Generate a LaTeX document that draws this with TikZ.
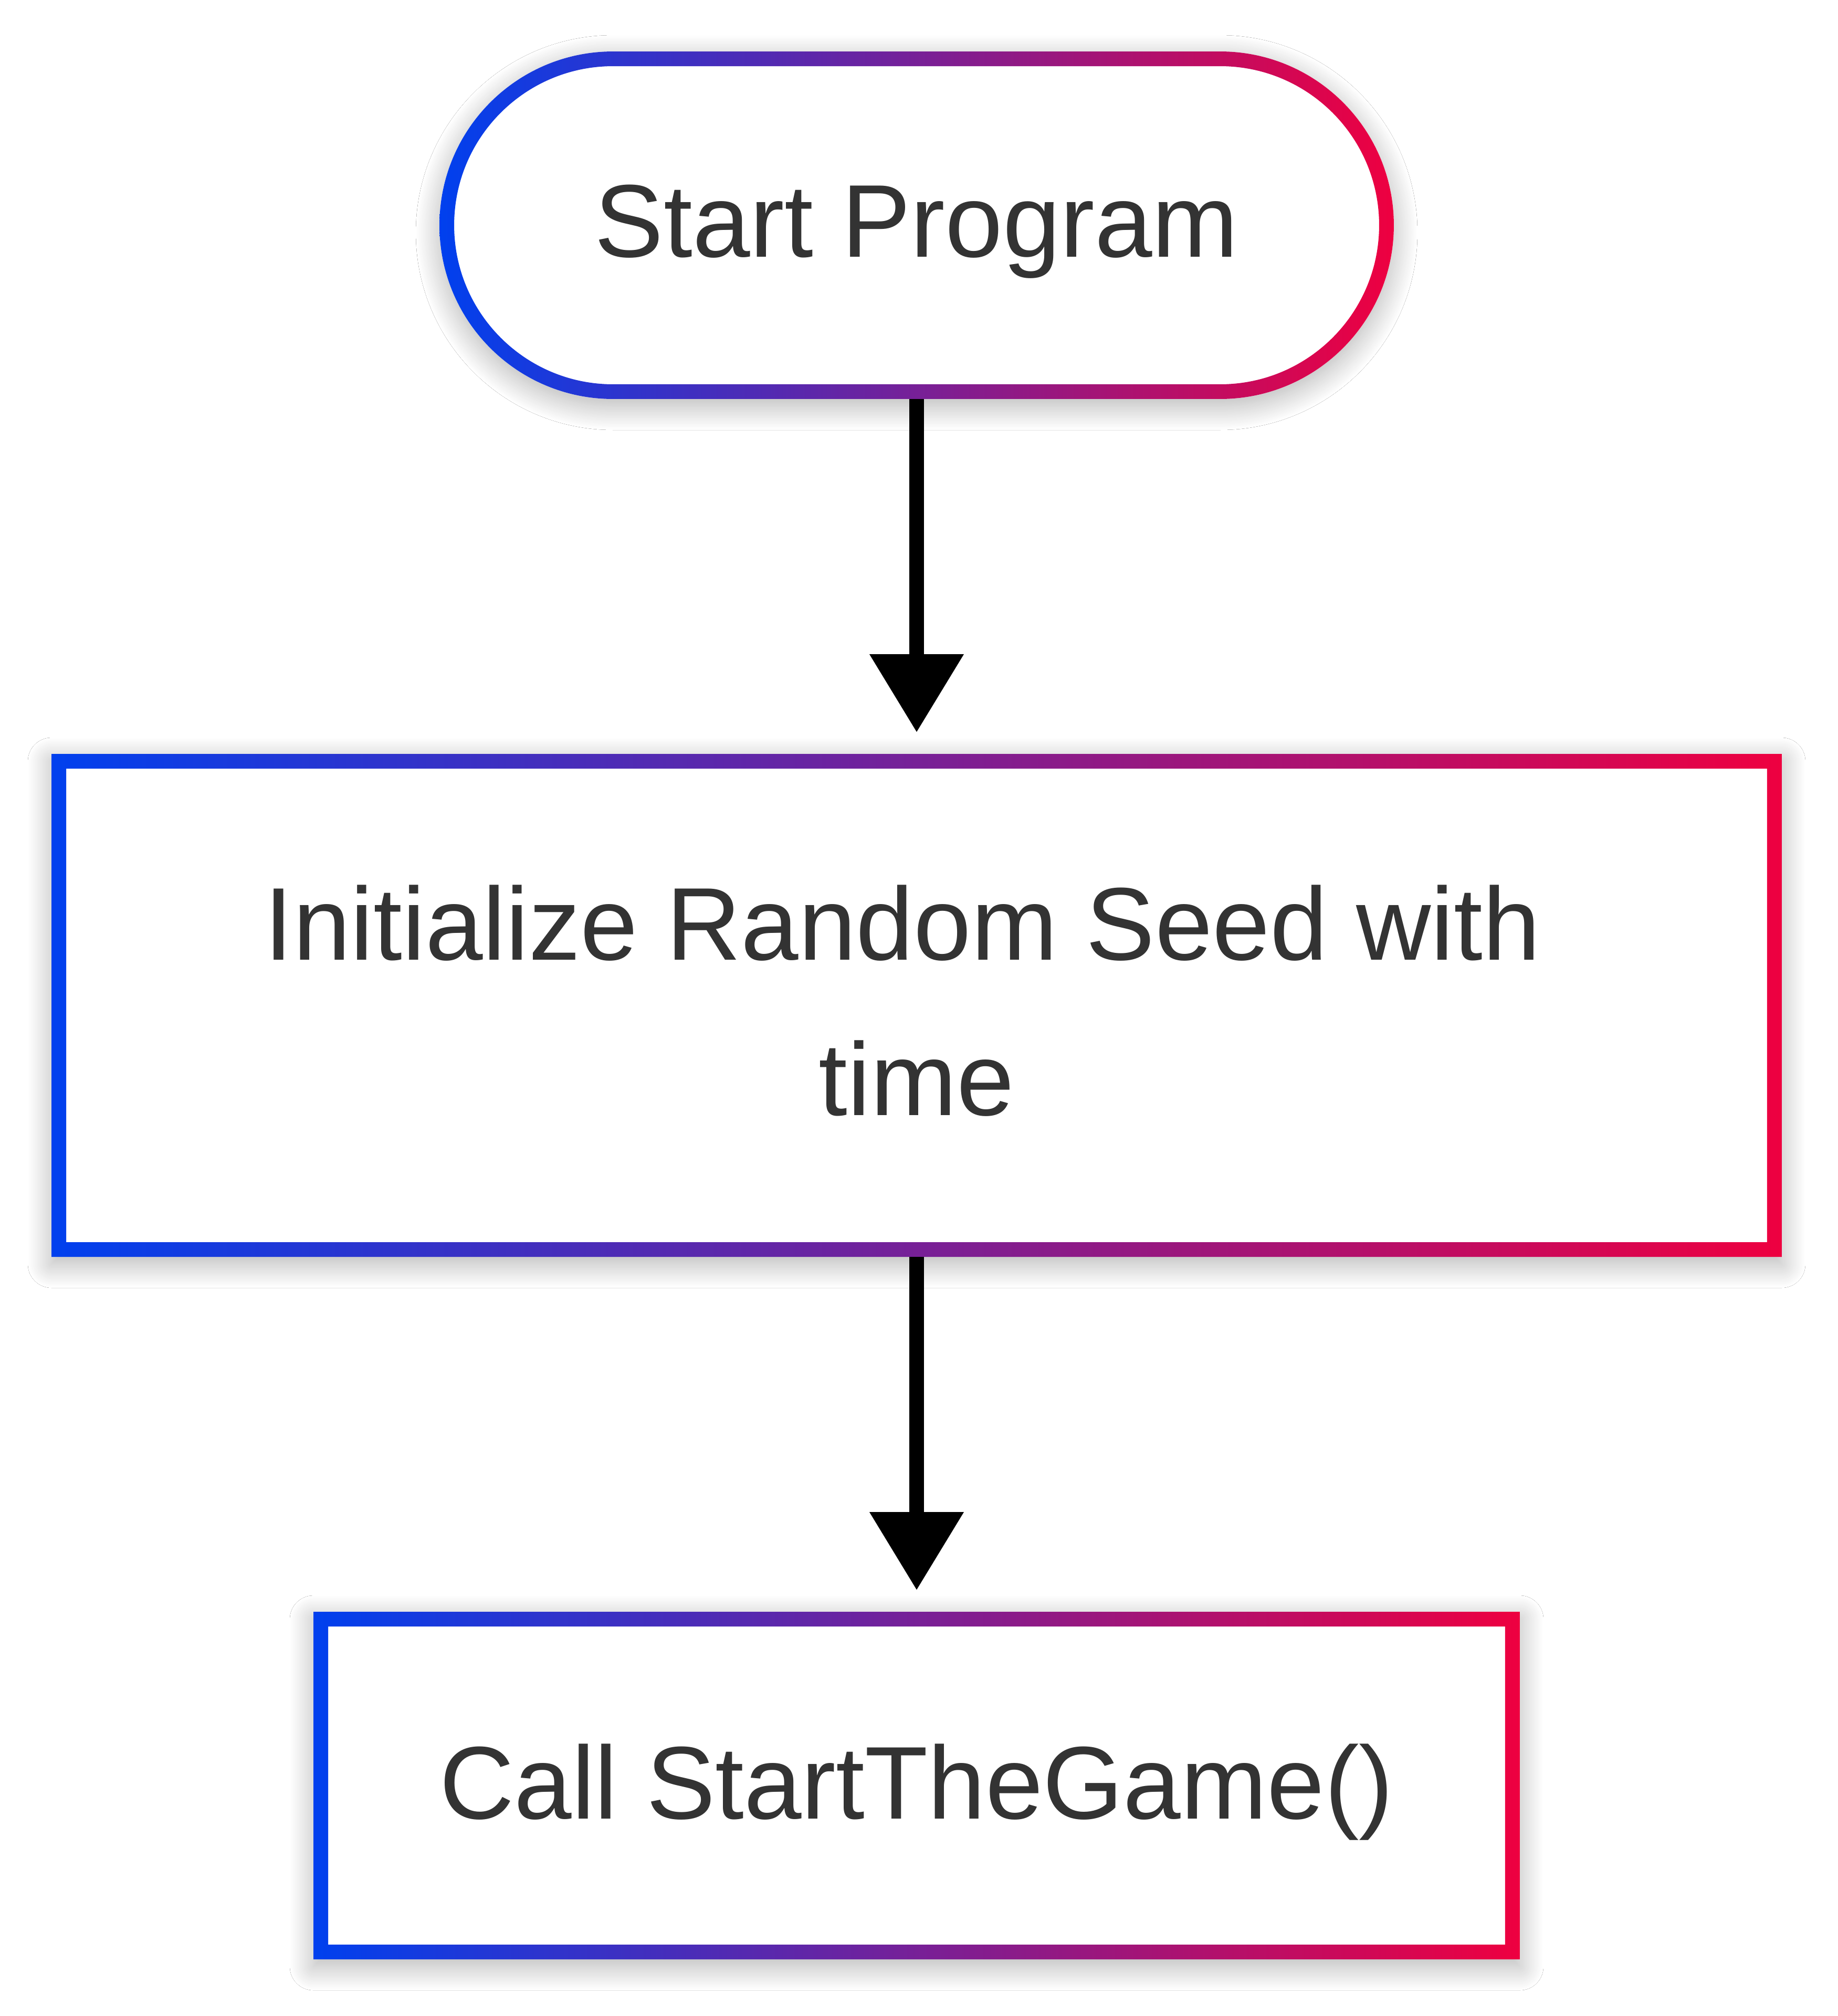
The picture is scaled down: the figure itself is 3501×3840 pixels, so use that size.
\documentclass[tikz,border=0pt]{standalone}
\usepackage{fontspec}
\setmainfont{Liberation Sans}
\usetikzlibrary{arrows.meta,shadows.blur}
\definecolor{gL}{HTML}{0040EE}
\definecolor{gR}{HTML}{EE0040}
\definecolor{txt}{HTML}{333333}
\begin{document}
\begin{tikzpicture}[x=0.1pt,y=-0.1pt,
  frame/.style={inner sep=0pt, outer sep=0pt, draw=none},
  lbl/.style={inner sep=0pt, text=txt, font=\fontsize{19.7pt}{29.6pt}\selectfont, align=center},
  conn/.style={line width=2.8pt, draw=black, -{Triangle[length=14.8pt,width=18pt,line width=0pt,fill=black]}, shorten >=4.2pt},
  shadowed/.style={blur shadow={shadow xshift=0pt, shadow yshift=-1.4pt, shadow blur radius=4.5pt, shadow opacity=30, shadow blur steps=30}},
  ring/.style={left color=gL, right color=gR, even odd rule}]
\fill[white] (0,0) rectangle (3501,3840);
\useasboundingbox (0,0) rectangle (3501,3840);
% shape frames
\node[frame, minimum width=181.8pt, minimum height=66.2pt] (st) at (1746,429) {};
\node[frame, minimum width=329.6pt, minimum height=95.8pt] (init) at (1746,1915) {};
\node[frame, minimum width=229.8pt, minimum height=66.2pt] (call) at (1746,3401) {};
% start terminal
\fill[white, shadowed, rounded corners=33.09pt] (st.north west) rectangle (st.south east);
\shade[ring, rounded corners=33.09pt] (st.north west) rectangle (st.south east)
  [rounded corners=30.29pt] ([shift={(28,28)}]st.north west) rectangle ([shift={(-28,-28)}]st.south east);
% process boxes
\fill[white, shadowed] (init.north west) rectangle (init.south east);
\shade[ring] (init.north west) rectangle (init.south east)
  ([shift={(28,28)}]init.north west) rectangle ([shift={(-28,-28)}]init.south east);
\fill[white, shadowed] (call.north west) rectangle (call.south east);
\shade[ring] (call.north west) rectangle (call.south east)
  ([shift={(28,28)}]call.north west) rectangle ([shift={(-28,-28)}]call.south east);
% labels
\node[lbl] (stT) at (1746,441) {Start Program};
\node[lbl] (initT) at (1746,1906) {Initialize Random Seed with\kern5.4pt\\time};
\node[lbl] (callT) at (1746,3413) {Call StartTheGame()};
% connectors
\draw[conn] (st.south) -- (init.north);
\draw[conn] (init.south) -- (call.north);
\end{tikzpicture}
\end{document}
